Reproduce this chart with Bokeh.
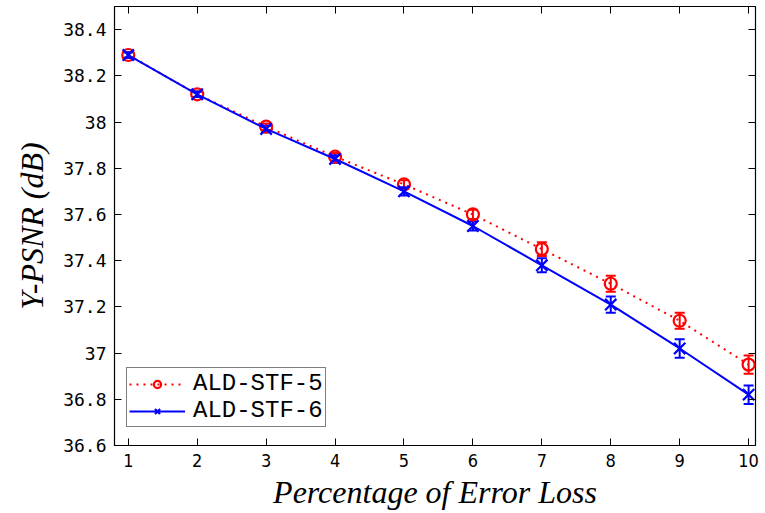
from bokeh.plotting import figure
from bokeh.models import (ColumnDataSource, Whisker, TeeHead, FixedTicker, LinearAxis,
                          Legend, LegendItem, CustomJSTickFormatter, Range1d)
from bokeh.embed import file_html
from bokeh.resources import INLINE

# ---- data ----
loss = [1, 2, 3, 4, 5, 6, 7, 8, 9, 10]
stf5 = [38.29, 38.12, 37.98, 37.85, 37.73, 37.60, 37.45, 37.30, 37.14, 36.95]
stf5_err = [0.012, 0.012, 0.014, 0.016, 0.018, 0.020, 0.030, 0.035, 0.035, 0.040]
stf6 = [38.29, 38.12, 37.97, 37.84, 37.70, 37.55, 37.38, 37.21, 37.02, 36.82]
stf6_err = [0.012, 0.012, 0.014, 0.016, 0.018, 0.020, 0.030, 0.035, 0.040, 0.040]
x_ticks = [1, 2, 3, 4, 5, 6, 7, 8, 9, 10]
y_ticks = [36.6, 36.8, 37.0, 37.2, 37.4, 37.6, 37.8, 38.0, 38.2, 38.4]
label5 = "ALD-STF-5"
label6 = "ALD-STF-6"
x_title = "Percentage of Error Loss"
y_title = "Y-PSNR (dB)"

RED = "#ff0000"
BLUE = "#0000ff"

p = figure(width=765, height=513, output_backend="svg", toolbar_location=None,
           x_range=Range1d(0.8, 10.1), y_range=Range1d(36.6, 38.5),
           min_border_left=114, min_border_right=10, min_border_top=6,
           min_border_bottom=68)
p.background_fill_color = "white"
p.border_fill_color = "white"
p.outline_line_color = "black"
p.outline_line_width = 1.2
p.outline_line_alpha = 1
p.grid.visible = False

src5 = ColumnDataSource(dict(x=loss, y=stf5,
                             lo=[v - e for v, e in zip(stf5, stf5_err)],
                             hi=[v + e for v, e in zip(stf5, stf5_err)]))
src6 = ColumnDataSource(dict(x=loss, y=stf6,
                             lo=[v - e for v, e in zip(stf6, stf6_err)],
                             hi=[v + e for v, e in zip(stf6, stf6_err)]))

# red series (drawn first)
l5 = p.line("x", "y", source=src5, line_color=RED, line_width=2, line_dash="2 5")
p.add_layout(Whisker(base="x", lower="lo", upper="hi", source=src5,
                     line_color=RED, line_width=2,
                     upper_head=TeeHead(size=10, line_color=RED, line_width=2),
                     lower_head=TeeHead(size=10, line_color=RED, line_width=2)))
m5 = p.scatter("x", "y", source=src5, marker="circle", size=12, line_color=RED,
               line_width=2.2, fill_color=None)

# blue series
l6 = p.line("x", "y", source=src6, line_color=BLUE, line_width=2)
p.add_layout(Whisker(base="x", lower="lo", upper="hi", source=src6,
                     line_color=BLUE, line_width=2,
                     upper_head=TeeHead(size=10, line_color=BLUE, line_width=2),
                     lower_head=TeeHead(size=10, line_color=BLUE, line_width=2)))
m6 = p.scatter("x", "y", source=src6, marker="x", size=16, line_color=BLUE,
               line_width=2.2)

fmt = CustomJSTickFormatter(code="return tick.toFixed(1).replace(/\\.0$/, '');")
blank = CustomJSTickFormatter(code="return '';")

# axes
p.xaxis.ticker = FixedTicker(ticks=x_ticks)
p.yaxis.ticker = FixedTicker(ticks=y_ticks)
p.yaxis.formatter = fmt
for ax in (p.xaxis[0], p.yaxis[0]):
    ax.major_tick_in = 7
    ax.major_tick_out = 0
    ax.minor_tick_in = 0
    ax.minor_tick_out = 0
    ax.axis_line_color = "black"
    ax.major_tick_line_color = "black"
    ax.axis_label_text_font = "Liberation Serif"
    ax.axis_label_text_font_style = "italic"
    ax.axis_label_text_font_size = "32px"
    ax.axis_label_text_color = "black"
    ax.major_label_text_color = "black"

p.xaxis.axis_label = x_title
p.yaxis.axis_label = y_title
p.yaxis.major_label_text_font = "DejaVu Sans Mono"
p.yaxis.major_label_text_font_size = "18px"
p.yaxis.major_label_standoff = 8
p.yaxis.axis_label_standoff = 10
p.xaxis.major_label_text_font = "'DejaVu Sans Condensed', 'Liberation Sans Narrow', sans-serif"
p.xaxis.major_label_text_font_size = "18px"
p.xaxis.major_label_standoff = 8
p.xaxis.axis_label_standoff = 4

# mirrored tick axes (ticks only)
rax = LinearAxis(ticker=FixedTicker(ticks=y_ticks), formatter=blank,
                 major_label_standoff=0, major_tick_in=7, major_tick_out=0,
                 minor_tick_in=0, minor_tick_out=0, axis_line_color=None)
tax = LinearAxis(ticker=FixedTicker(ticks=x_ticks), formatter=blank,
                 major_label_standoff=0, major_tick_in=7, major_tick_out=0,
                 minor_tick_in=0, minor_tick_out=0, axis_line_color=None)
p.add_layout(rax, "right")
p.add_layout(tax, "above")

legend = Legend(items=[LegendItem(label=label5, renderers=[l5, m5]),
                       LegendItem(label=label6, renderers=[l6, m6])],
                location=(12, 18), orientation="vertical",
                label_text_font="Liberation Mono", label_text_font_size="24px",
                label_text_color="black", label_text_line_height=0.9,
                glyph_width=56, glyph_height=18, label_height=18,
                label_standoff=8,
                spacing=0, padding=2, margin=0,
                border_line_color="black", border_line_width=1.2,
                background_fill_color="white", background_fill_alpha=1)
p.add_layout(legend, "center")

open("out.html", "w").write(file_html(p, INLINE))
